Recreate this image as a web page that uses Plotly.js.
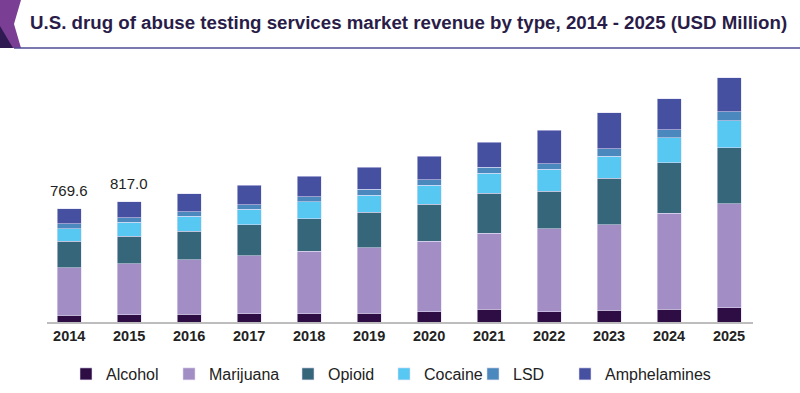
<!DOCTYPE html>
<html>
<head>
<meta charset="utf-8">
<script src="https://cdn.plot.ly/plotly-3.0.1.min.js"></script>
<style>
  html, body { margin: 0; padding: 0; background: #ffffff; }
  #chart { width: 800px; height: 393px; }
</style>
</head>
<body>
<div id="chart"></div>
<script>
// ---- data ----
const years = ['2014','2015','2016','2017','2018','2019','2020','2021','2022','2023','2024','2025'];
const alcohol      = [46, 49, 52, 57, 57, 61, 68, 88, 68, 79, 88, 95];
const marijuana    = [322, 346, 371, 393, 422, 443, 479, 513, 565, 581, 651, 708];
const opioid       = [181, 187, 194, 210, 222, 239, 251, 271, 255, 316, 342, 377];
const cocaine      = [84, 95, 100, 104, 113, 115, 129, 136, 147, 149, 167, 183];
const lsd          = [34, 30, 29, 32, 34, 41, 39, 41, 39, 50, 57, 61];
const amphelamines = [102, 110, 125, 131, 140, 151, 158, 170, 226, 244, 210, 233];
const seriesNames  = ['Alcohol', 'Marijuana', 'Opioid', 'Cocaine', 'LSD', 'Amphelamines'];
const labelYears   = ['2014', '2015'];
const labelTexts   = ['769.6', '817.0'];

// ---- styling ----
const colors = ['#2e0d45', '#a28ec4', '#36667a', '#56c8f2', '#4a88bd', '#4650a0'];
const seriesValues = [alcohol, marijuana, opioid, cocaine, lsd, amphelamines];

// plot area in pixels: x 47..753, y 60..322
const L = 47, R = 47, T = 60, B = 71, W = 800, H = 393;
const pw = W - L - R, ph = H - T - B;
const px = v => (v - L) / pw;
const py = v => (H - B - v) / ph;

// legend text start positions (pixels) for each entry
const legendTextX = [106, 209, 328, 424, 513, 605];
const legendIds = ['legend', 'legend2', 'legend3', 'legend4', 'legend5', 'legend6'];
const FONT = 'Liberation Sans, Arial, sans-serif';

const traces = seriesValues.map((vals, i) => ({
  type: 'bar',
  name: seriesNames[i],
  x: years,
  y: vals,
  legend: legendIds[i],
  marker: { color: colors[i], line: { color: 'rgba(225,220,245,0.7)', width: 0.8 } },
  hoverinfo: 'x+y+name'
}));

const totals = years.map((_, j) => seriesValues.reduce((s, arr) => s + arr[j], 0));

// category axis: annotation x given as category index
const annotations = labelYears.map((yr, k) => ({
  x: years.indexOf(yr), y: totals[years.indexOf(yr)], xref: 'x', yref: 'y',
  text: labelTexts[k], showarrow: false, yanchor: 'bottom', yshift: 8,
  font: { family: FONT, size: 15, color: '#222222' }
}));

const shapes = [
  { type: 'path', xref: 'paper', yref: 'paper',
    path: `M${px(0)},${py(0)} L${px(21)},${py(0)} L${px(14)},${py(24)} L${px(21)},${py(48)} L${px(0)},${py(48)} Z`,
    fillcolor: '#7a3f94', line: { width: 0 } },
  { type: 'path', xref: 'paper', yref: 'paper',
    path: `M${px(0)},${py(26)} L${px(13)},${py(48)} L${px(0)},${py(48)} Z`,
    fillcolor: '#2f1a52', line: { width: 0 } },
  { type: 'line', xref: 'paper', yref: 'paper',
    x0: px(14), x1: px(800), y0: py(48), y1: py(48),
    line: { color: '#4f4a95', width: 1.5 } }
];

const layout = {
  width: W, height: H,
  margin: { l: L, r: R, t: T, b: B, pad: 0, autoexpand: false },
  paper_bgcolor: '#ffffff', plot_bgcolor: '#ffffff',
  barmode: 'stack', bargap: 0.6,
  showlegend: true,
  title: {
    text: '<b>U.S. drug of abuse testing services market revenue by type, 2014 - 2025 (USD Million)</b>',
    x: 30 / W, xanchor: 'left', xref: 'container',
    y: 1 - 22 / H, yanchor: 'middle', yref: 'container',
    font: { family: FONT, size: 18.7, color: '#2a1c48' }
  },
  xaxis: {
    type: 'category', range: [-0.37, 11.4],
    showline: true, linecolor: '#bdbdbd', linewidth: 2,
    showgrid: false, zeroline: false, ticks: '',
    tickfont: { family: FONT, size: 14.5, color: '#222222', weight: 'bold' },
    fixedrange: true
  },
  yaxis: {
    range: [0, ph * 6.78], showticklabels: false, showline: false,
    showgrid: false, zeroline: false, ticks: '', fixedrange: true
  },
  annotations: annotations,
  shapes: shapes
};

legendIds.forEach((id, i) => {
  layout[id] = {
    orientation: 'h', x: px(legendTextX[i] - 40), xanchor: 'left',
    y: py(374), yanchor: 'middle',
    font: { family: FONT, size: 16, color: '#222222' },
    itemwidth: 30, bgcolor: 'rgba(0,0,0,0)', borderwidth: 0
  };
});

Plotly.newPlot('chart', traces, layout, { displayModeBar: false, staticPlot: true });
</script>
</body>
</html>
